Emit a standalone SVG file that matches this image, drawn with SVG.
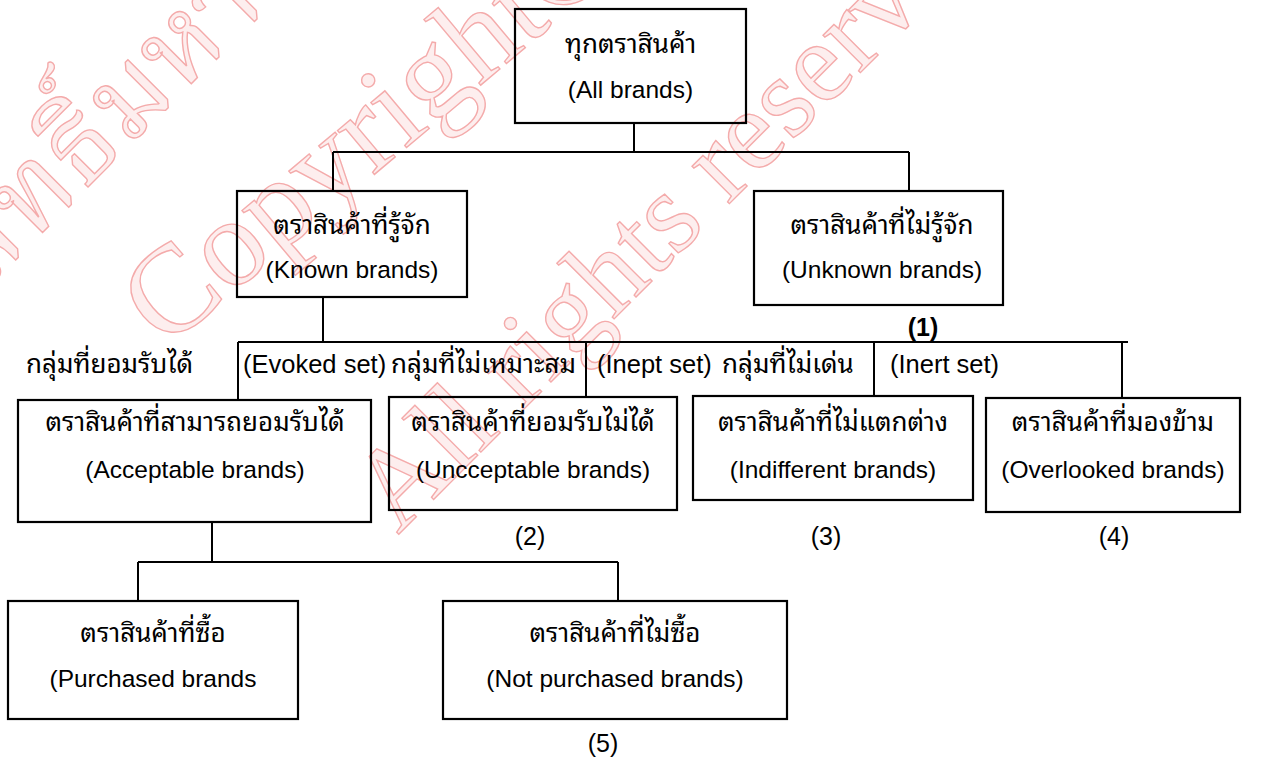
<svg xmlns="http://www.w3.org/2000/svg" width="1261" height="761" viewBox="0 0 1261 761">
<style>
.box{fill:none;stroke:#000;stroke-width:2.2}
.ln{fill:none;stroke:#000;stroke-width:2}
.th{font-family:"Noto Sans Thai Looped","Noto Sans Thai","Noto Sans","DejaVu Sans","Liberation Sans",sans-serif;font-size:26px;fill:#000;text-anchor:middle}
.en{font-family:"Liberation Sans",Arial,sans-serif;font-size:24.5px;fill:#000;text-anchor:middle}
.lb{font-family:"Liberation Sans",Arial,sans-serif;font-size:25.5px;fill:#000}
.lbth{font-family:"Noto Sans Thai Looped","Noto Sans Thai","Noto Sans","DejaVu Sans","Liberation Sans",sans-serif;font-size:26px;fill:#000}
.num{font-family:"Liberation Sans",Arial,sans-serif;font-size:25px;fill:#000;text-anchor:middle}
.wm{font-family:"Liberation Serif","Times New Roman",serif;fill:#fdeeee;stroke:#f4abab;stroke-width:1.4}
.wmth{font-family:"Noto Serif Thai","Noto Sans Thai","Liberation Serif",serif;font-size:112px;fill:#fdeeee;stroke:#f4abab;stroke-width:1.4}
</style>
<rect x="0" y="0" width="1261" height="761" fill="#fff"/>
<g id="watermark">
<text class="wmth" transform="translate(-110,385) rotate(-45)">ลิขสิทธิ์มหาวิทยาลัย</text>
<text class="wm" font-size="125" transform="translate(165,350) rotate(-40)">Copyright©</text>
<text class="wm" font-size="115" transform="translate(398,535) rotate(-45)">All rights reserved</text>
</g>
<g id="connectors">
<path class="ln" d="M634,123 V152 M333,152 H909 M333,152 V191 M909,152 V191"/>
<path class="ln" d="M323,297 V342 M238,342 H1128 M238,342 V400 M586,342 V396 M874,342 V395 M1122,342 V398"/>
<path class="ln" d="M212,522 V562 M138,562 H618 M138,562 V601 M618,562 V601"/>
</g>
<g id="all-brands">
<rect class="box" x="515" y="9" width="231" height="114"/>
<text class="th" x="630.5" y="53">ทุกตราสินค้า</text>
<text class="en" x="630.5" y="98">(All brands)</text>
</g>
<g id="known-brands">
<rect class="box" x="237" y="191" width="230" height="106"/>
<text class="th" x="352" y="234">ตราสินค้าที่รู้จัก</text>
<text class="en" x="352" y="278">(Known brands)</text>
</g>
<g id="unknown-brands">
<rect class="box" x="754" y="191" width="249" height="114"/>
<text class="th" x="882" y="234">ตราสินค้าที่ไม่รู้จัก</text>
<text class="en" x="882" y="278">(Unknown brands)</text>
<text class="num" x="923" y="336" font-weight="bold">(1)</text>
</g>
<g id="set-labels">
<text class="lbth" x="26" y="373">กลุ่มที่ยอมรับได้</text>
<text class="lb" x="243" y="373">(Evoked set)</text>
<text class="lbth" x="391" y="373">กลุ่มที่ไม่เหมาะสม</text>
<text class="lb" x="597" y="373">(Inept set)</text>
<text class="lbth" x="722" y="373">กลุ่มที่ไม่เด่น</text>
<text class="lb" x="890" y="373">(Inert set)</text>
</g>
<g id="acceptable-brands">
<rect class="box" x="18" y="400" width="353" height="122"/>
<text class="th" x="195" y="431">ตราสินค้าที่สามารถยอมรับได้</text>
<text class="en" x="195" y="478">(Acceptable brands)</text>
</g>
<g id="unacceptable-brands">
<rect class="box" x="389" y="397" width="288" height="113"/>
<text class="th" x="533" y="431">ตราสินค้าที่ยอมรับไม่ได้</text>
<text class="en" x="533" y="478">(Uncceptable brands)</text>
<text class="num" x="530" y="545">(2)</text>
</g>
<g id="indifferent-brands">
<rect class="box" x="693" y="396" width="280" height="104"/>
<text class="th" x="833" y="431">ตราสินค้าที่ไม่แตกต่าง</text>
<text class="en" x="833" y="478">(Indifferent brands)</text>
<text class="num" x="826" y="545">(3)</text>
</g>
<g id="overlooked-brands">
<rect class="box" x="986" y="398" width="254" height="114"/>
<text class="th" x="1113" y="431">ตราสินค้าที่มองข้าม</text>
<text class="en" x="1113" y="478">(Overlooked brands)</text>
<text class="num" x="1114" y="545">(4)</text>
</g>
<g id="purchased-brands">
<rect class="box" x="8" y="601" width="290" height="118"/>
<text class="th" x="153" y="642">ตราสินค้าที่ซื้อ</text>
<text class="en" x="153" y="687">(Purchased brands</text>
</g>
<g id="not-purchased-brands">
<rect class="box" x="443" y="601" width="344" height="118"/>
<text class="th" x="615" y="642">ตราสินค้าที่ไม่ซื้อ</text>
<text class="en" x="615" y="687">(Not purchased brands)</text>
<text class="num" x="603" y="752">(5)</text>
</g>
</svg>
